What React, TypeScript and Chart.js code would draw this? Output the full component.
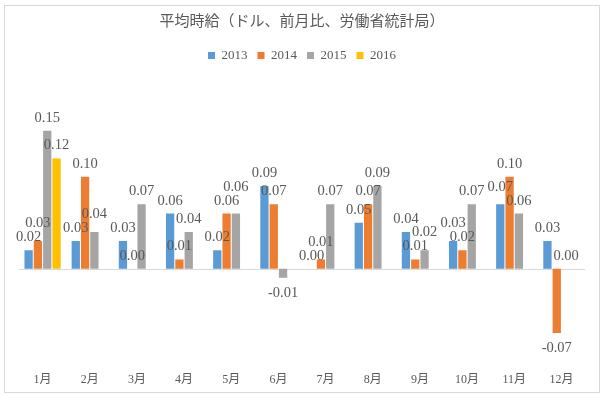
import React, { useEffect, useRef } from "react";
import { Chart, registerables } from "chart.js";

Chart.register(...registerables);

const categories = ["1月", "2月", "3月", "4月", "5月", "6月", "7月", "8月", "9月", "10月", "11月", "12月"];
const seriesNames = ["2013", "2014", "2015", "2016"];
const s2013 = [0.02, 0.03, 0.03, 0.06, 0.02, 0.09, 0.0, 0.05, 0.04, 0.03, 0.07, 0.03];
const s2014 = [0.03, 0.1, 0.0, 0.01, 0.06, 0.07, 0.01, 0.07, 0.01, 0.02, 0.1, -0.07];
const s2015 = [0.15, 0.04, 0.07, 0.04, 0.06, -0.01, 0.07, 0.09, 0.02, 0.07, 0.06, 0.0];
const s2016 = [0.12, null, null, null, null, null, null, null, null, null, null, null];
const colors = ["#5B9BD5", "#ED7D31", "#A5A5A5", "#FFC000"];
const titleText = "平均時給（ドル、前月比、労働省統計局）";

const FONT = "'Liberation Serif', 'Noto Sans CJK JP', serif";
const TEXT = "#595959";

const extrasPlugin = {
  id: "extras",
  beforeDraw(chart: any) {
    const ctx = chart.ctx;
    ctx.save();
    ctx.fillStyle = "#ffffff";
    ctx.fillRect(0, 0, chart.width, chart.height);
    ctx.strokeStyle = "#d9d9d9";
    ctx.lineWidth = 1;
    ctx.strokeRect(4.5, 5.5, 595, 387);
    ctx.restore();
  },
  beforeDatasetsDraw(chart: any) {
    const ctx = chart.ctx;
    const y = Math.round(chart.scales.y.getPixelForValue(0)) + 0.5;
    ctx.save();
    ctx.strokeStyle = "#d9d9d9";
    ctx.lineWidth = 1;
    ctx.beginPath();
    ctx.moveTo(chart.chartArea.left, y);
    ctx.lineTo(chart.chartArea.right, y);
    ctx.stroke();
    ctx.restore();
  },
  afterDatasetsDraw(chart: any) {
    const ctx = chart.ctx;
    ctx.save();
    ctx.font = "14.5px " + FONT;
    ctx.fillStyle = TEXT;
    ctx.textAlign = "center";
    ctx.textBaseline = "alphabetic";
    const H = 13;
    const n = chart.data.labels.length;
    for (let i = 0; i < n; i++) {
      const items: any[] = [];
      chart.data.datasets.forEach((ds: any, di: number) => {
        const v = ds.data[i];
        if (v === null || v === undefined) return;
        const bar: any = chart.getDatasetMeta(di).data[i];
        const txt = v.toFixed(2);
        const w = ctx.measureText(txt).width;
        if (v >= 0) {
          items.push({ v, txt, x: bar.x, base: bar.y - 9, w, pos: true });
        } else {
          items.push({ v, txt, x: bar.x, base: bar.y + 19, w, pos: false });
        }
      });
      const pos = items.filter((it) => it.pos).sort((a, b) => a.v - b.v);
      const placed: any[] = [];
      pos.forEach((it) => {
        let moved = true;
        let guard = 0;
        while (moved && guard < 10) {
          moved = false;
          guard++;
          for (const p of placed) {
            const xo = Math.abs(p.x - it.x) < (p.w + it.w) / 2 - 2;
            const yo = it.base > p.base - H && it.base < p.base + H;
            if (xo && yo) {
              it.base = p.base - H - 1;
              moved = true;
            }
          }
        }
        placed.push(it);
      });
      items.forEach((it) => ctx.fillText(it.txt, it.x, it.base));
    }
    ctx.restore();
  },
};

export default function App() {
  const ref = useRef<HTMLCanvasElement | null>(null);
  useEffect(() => {
    document.body.style.margin = "0";
    const all = [s2013, s2014, s2015, s2016];
    const chart = new Chart(ref.current as HTMLCanvasElement, {
      type: "bar",
      data: {
        labels: categories,
        datasets: all.map((d, i) => ({
          label: seriesNames[i],
          data: d,
          backgroundColor: colors[i],
          borderWidth: 0,
          categoryPercentage: 0.79,
          barPercentage: 0.89,
        })),
      },
      options: {
        animation: false,
        responsive: false,
        devicePixelRatio: 1,
        layout: { padding: { left: 19, right: 19, top: 0, bottom: 4 } },
        plugins: {
          title: {
            display: true,
            text: titleText,
            color: TEXT,
            font: { family: FONT, size: 15, weight: "normal" },
            padding: { top: 13, bottom: 8 },
          },
          legend: {
            display: true,
            position: "top",
            labels: {
              boxWidth: 7,
              boxHeight: 7,
              color: TEXT,
              font: { family: FONT, size: 13 },
              padding: 10,
            },
          },
          tooltip: { enabled: false },
        },
        scales: {
          x: {
            grid: { display: false },
            border: { display: false },
            ticks: { color: TEXT, font: { family: FONT, size: 12 }, padding: 8 },
          },
          y: {
            min: -0.0957,
            max: 0.214,
            grid: { display: false },
            border: { display: false },
            ticks: { display: false },
            afterFit: (s: any) => {
              s.width = 0;
            },
          },
        },
      },
      plugins: [extrasPlugin],
    } as any);
    return () => chart.destroy();
  }, []);
  return <canvas ref={ref} width={604} height={399} style={{ display: "block" }} />;
}
